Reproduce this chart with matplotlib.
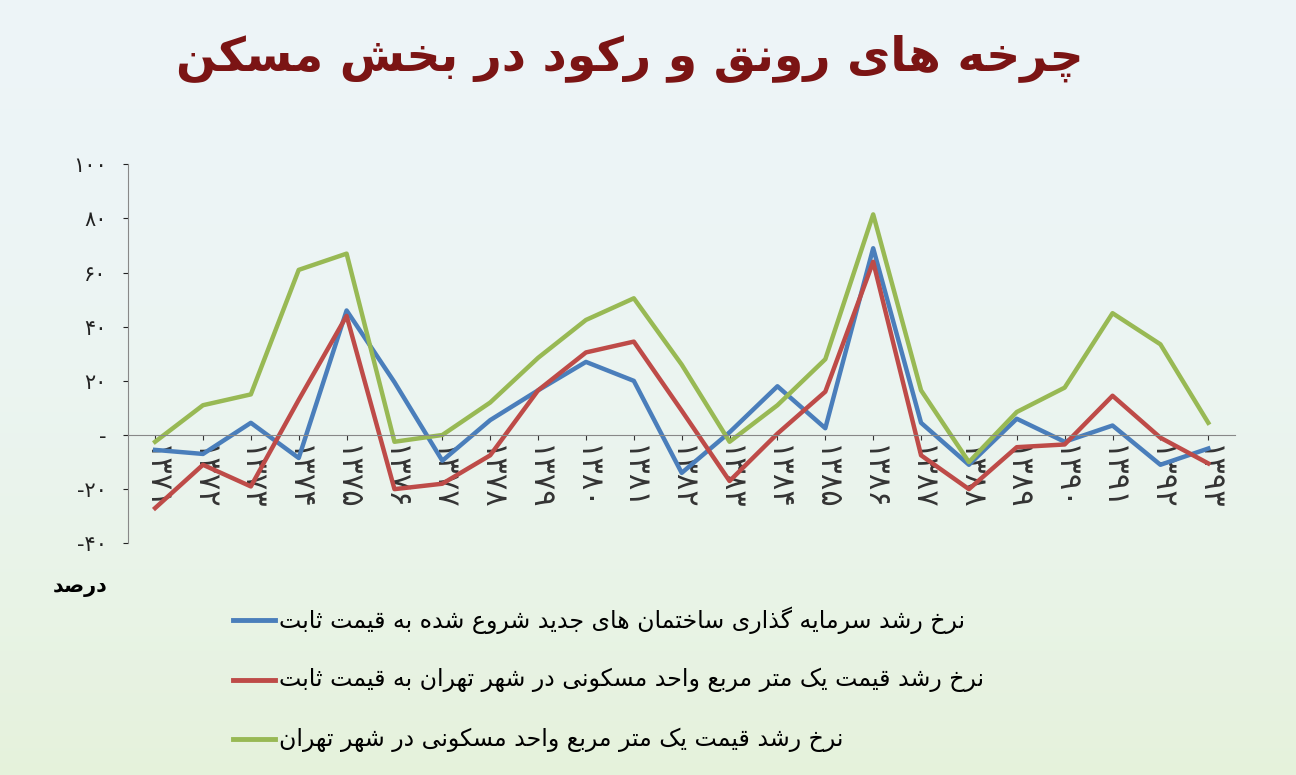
import unicodedata
import numpy as np
import matplotlib.pyplot as plt

years = ['۱۳۷۱', '۱۳۷۲', '۱۳۷۳', '۱۳۷۴', '۱۳۷۵', '۱۳۷۶', '۱۳۷۷', '۱۳۷۸', '۱۳۷۹', '۱۳۸۰', '۱۳۸۱', '۱۳۸۲',
         '۱۳۸۳', '۱۳۸۴', '۱۳۸۵', '۱۳۸۶', '۱۳۸۷', '۱۳۸۸', '۱۳۸۹', '۱۳۹۰', '۱۳۹۱', '۱۳۹۲', '۱۳۹۳']
investment = [-5.5, -7, 4.5, -8.5, 46, 19.5, -9.5, 5.5, 16.5, 27, 20, -14,
              1, 18, 2.5, 69, 4.5, -11, 6, -2.5, 3.5, -11, -5]
price_real = [-27, -11, -19, 13, 44, -20, -18, -7.5, 16.5, 30.5, 34.5, 9,
              -17, 0.5, 16, 64, -7.5, -20, -4.5, -3.5, 14.5, -1, -10.5]
price_nominal = [-2.5, 11, 15, 61, 67, -2.5, 0, 12, 28.5, 42.5, 50.5, 26,
                 -2.5, 11, 28, 81.5, 16.5, -10, 8.5, 17.5, 45, 33.5, 4.5]
yticks = [-40, -20, 0, 20, 40, 60, 80, 100]
ylabels = ['-۴۰', '-۲۰', '-', '۲۰', '۴۰', '۶۰', '۸۰', '۱۰۰']

title = 'چرخه های رونق و رکود در بخش مسکن'
unit = 'درصد'
names = ['نرخ رشد سرمایه گذاری ساختمان های جدید شروع شده به قیمت ثابت',
         'نرخ رشد قیمت یک متر مربع واحد مسکونی در شهر تهران به قیمت ثابت',
         'نرخ رشد قیمت یک متر مربع واحد مسکونی در شهر تهران']
colors = ['#4A7EBB', '#BE4B48', '#98B954']

RIGHT_JOIN = set('اآأإدذرزژوؤة')


def is_letter(c):
    return '\u0620' <= c <= '\u06FF' and unicodedata.category(c) == 'Lo'


def form(c, suffix):
    try:
        return unicodedata.lookup(unicodedata.name(c) + ' ' + suffix)
    except KeyError:
        return None


def shape(text):
    out = []
    for i, c in enumerate(text):
        if not is_letter(c):
            out.append(c)
            continue
        prev = text[i - 1] if i > 0 else ''
        nxt = text[i + 1] if i + 1 < len(text) else ''
        jp = bool(prev) and is_letter(prev) and prev not in RIGHT_JOIN
        jn = bool(nxt) and is_letter(nxt) and c not in RIGHT_JOIN
        if jp and jn:
            order = ['MEDIAL FORM', 'FINAL FORM', 'ISOLATED FORM']
        elif jp:
            order = ['FINAL FORM', 'ISOLATED FORM']
        elif jn:
            order = ['INITIAL FORM', 'ISOLATED FORM']
        else:
            order = ['ISOLATED FORM']
        g = None
        for o in order:
            g = form(c, o)
            if g:
                break
        out.append(g or c)
    return ''.join(out)[::-1]


plt.rcParams['font.family'] = ['DejaVu Sans']
fig = plt.figure(figsize=(12.96, 7.75), dpi=100)

# pale sky-to-grass background
bg = fig.add_axes([0, 0, 1, 1], zorder=-10)
grad = np.linspace(0, 1, 256).reshape(-1, 1)
top = np.array([0.93, 0.96, 0.97])
bot = np.array([0.90, 0.95, 0.86])
img = top + (bot - top) * grad[..., None] ** 2
bg.imshow(img, aspect='auto', extent=[0, 1, 0, 1])
bg.axis('off')

ax = fig.add_axes([0.099, 0.299, 0.854, 0.489])
ax.patch.set_alpha(0)
x = np.arange(len(years))
for vals, col in zip([investment, price_real, price_nominal], colors):
    ax.plot(x, vals, color=col, lw=3.2)
ax.set_xlim(-0.56, len(years) - 0.44)
ax.set_ylim(-40, 100)
ax.set_yticks(yticks)
ax.set_yticklabels(ylabels)
ax.set_xticks(x)
ax.set_xticklabels(years)
ax.spines['top'].set_visible(False)
ax.spines['right'].set_visible(False)
ax.spines['bottom'].set_position(('data', 0))
for s in ['left', 'bottom']:
    ax.spines[s].set_color('#888888')
ax.tick_params(axis='x', pad=4, colors='#333333', labelrotation=-90, labelsize=22)
ax.tick_params(axis='y', colors='#222222', pad=12, labelsize=15)
for lab in ax.get_xticklabels():
    lab.set_va('top')
    lab.set_ha('center')

fig.text(0.486, 0.925, shape(title), ha='center', va='center', fontsize=34,
         fontweight='bold', color='#7B1414')
fig.text(0.062, 0.242, shape(unit), ha='center', va='center', fontsize=15, fontweight='bold')

for i, (name, col) in enumerate(zip(names, colors)):
    yy = 0.2 - i * 0.077
    fig.add_artist(plt.Line2D([0.18, 0.212], [yy, yy], color=col, lw=3.5))
    fig.text(0.215, yy, shape(name), ha='left', va='center', fontsize=17)

fig.savefig('out.png', dpi=100)
